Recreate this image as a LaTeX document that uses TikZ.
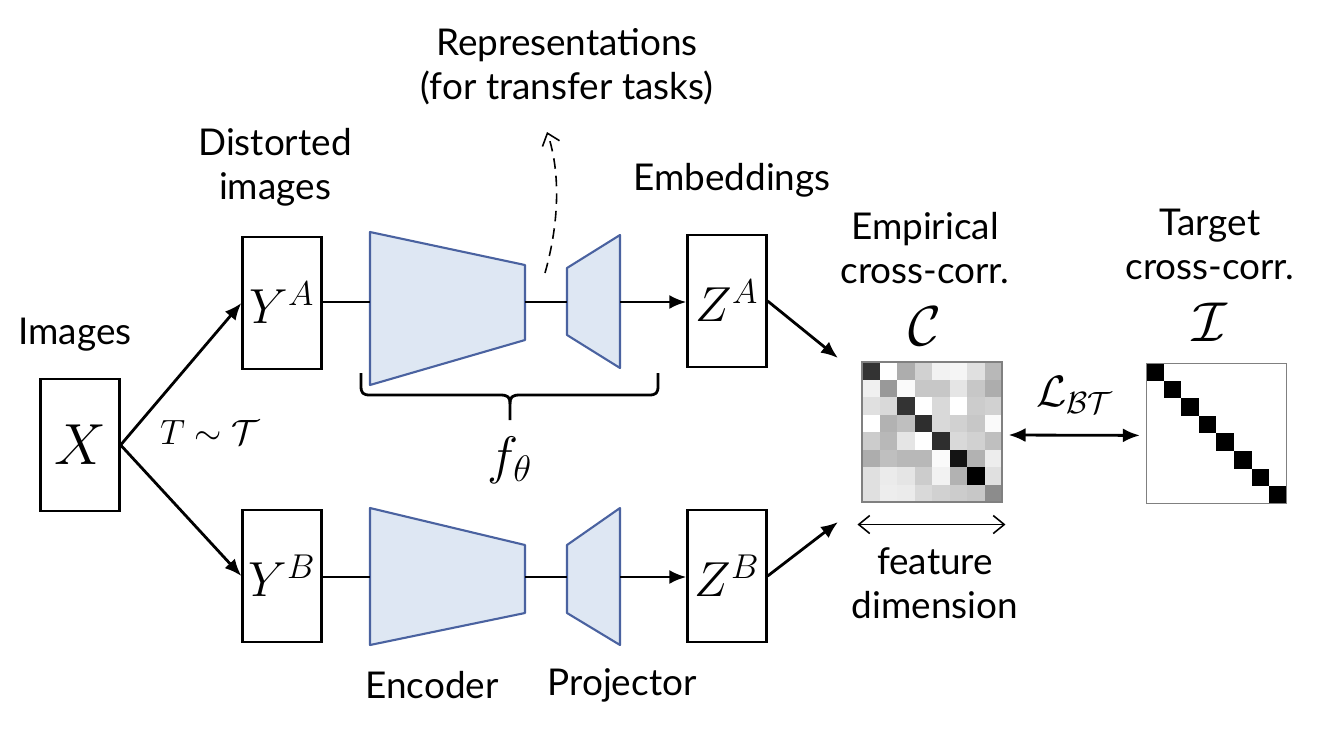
\RequirePackage{fix-cm}
\documentclass[tikz,border=0pt]{standalone}
\usepackage{fontspec}
\setmainfont{Lato}
\usetikzlibrary{arrows.meta,calc}
\definecolor{trapfill}{HTML}{DEE7F3}
\definecolor{trapline}{HTML}{4A62A0}
\begin{document}
\begin{tikzpicture}[x=0.02cm,y=-0.02cm,
  box/.style={draw, line width=1.3pt, minimum width=1.58cm, minimum height=2.64cm, inner sep=0pt, font=\fontsize{28}{32}\selectfont},
  lbl/.style={font=\fontsize{21}{25}\selectfont, align=center, inner sep=0pt},
  sym/.style={inner sep=0pt},
  conn/.style={line width=1.6pt, -{Latex[length=0.34cm,width=0.28cm]}},
  plain/.style={line width=1.6pt},
  trap/.style={draw=trapline, fill=trapfill, line width=1.2pt, line join=round},
  mat/.style={draw=gray, line width=0.6pt, minimum size=2.8cm, inner sep=0pt},
  barb/.style={line width=0.9pt, {Straight Barb[length=0.22cm,width=0.36cm]}-{Straight Barb[length=0.22cm,width=0.36cm]}}
]
\useasboundingbox (0,0) rectangle (1326,728);

% labels
\node[lbl] (limg) at (75,335) {Images};
\node[lbl] (ldist) at (275,167) {Distorted\\images};
\node[lbl] (lemb) at (732,180) {Embeddings};
\node[lbl] (lrep) at (567,67) {Representations\\(for transfer tasks)};
\node[lbl] (lemp) at (925,248) {Empirical\\cross-corr.};
\node[lbl] (ltar) at (1210,244) {Target\\cross-corr.};
\node[lbl] (lfeat) at (935,583) {feature\\dimension};
\node[lbl] (lenc) at (432,685) {Encoder};
\node[lbl] (lproj) at (622,685) {Projector};

% boxes
\node[box, font=\fontsize{33}{36}\selectfont] (X) at (80,445) {$X$};
\node[box] (YA) at (282,303) {$Y^A$};
\node[box] (YB) at (282,576) {$Y^B$};
\node[box] (ZA) at (727,301) {$Z^A$};
\node[box] (ZB) at (727,576) {$Z^B$};

% encoders / projectors (top)
\draw[trap] (370,232) -- (525,265) -- (525,340) -- (370,385) -- cycle;
\draw[trap] (567,268) -- (620,235) -- (620,368) -- (567,335) -- cycle;
% bottom
\draw[trap] (370,508) -- (525,545) -- (525,613) -- (370,645) -- cycle;
\draw[trap] (567,545) -- (620,508) -- (620,645) -- (567,613) -- cycle;

\coordinate (encAin) at (370,302);
\coordinate (encAout) at (525,302);
\coordinate (projAin) at (567,302);
\coordinate (projAout) at (620,302);
\coordinate (encBin) at (370,577);
\coordinate (encBout) at (525,577);
\coordinate (projBin) at (567,577);
\coordinate (projBout) at (620,577);

\draw[conn] (X.east) -- (YA.west);
\draw[conn] (X.east) -- (YB.west);
\node[sym, font=\fontsize{20}{24}\selectfont] (T) at (210,432) {$T\sim\mathcal{T}$};

\draw[plain] (YA.east |- encAin) -- (encAin);
\draw[plain] (encAout) -- (projAin);
\draw[conn] (projAout) -- (ZA.west |- projAout);
\draw[plain] (YB.east |- encBin) -- (encBin);
\draw[plain] (encBout) -- (projBin);
\draw[conn] (projBout) -- (ZB.west |- projBout);

% brace
\coordinate (brL) at (361,373);
\coordinate (brR) at (658,373);
\coordinate (brT) at (510,420);
\draw[line width=1.6pt, line join=round]
  (brL) -- (361,386) .. controls (361,393) and (363,395) .. (370,395)
  -- (500,395) .. controls (508,395) and (510,397) .. (510,404) -- (brT);
\draw[line width=1.6pt, line join=round]
  (brR) -- (658,386) .. controls (658,393) and (656,395) .. (649,395)
  -- (520,395) .. controls (512,395) and (510,397) .. (510,404);
\node[sym, font=\fontsize{30}{34}\selectfont] (f) at (510,460) {$f_\theta$};

% dashed arrow
\coordinate (dsA) at (545,273);
\coordinate (dsB) at (547,132);
\draw[line width=0.9pt, dash pattern=on 6pt off 4pt, -{Straight Barb[length=0.22cm,width=0.36cm]}] (dsA) .. controls (560,220) and (560,170) .. (dsB);

% matrices
\foreach \row [count=\r from 0] in {
 {0.2,1.0,0.68,0.82,0.95,0.96,0.88,0.72},
 {0.94,0.6,0.98,0.78,0.78,0.9,0.78,0.68},
 {0.88,0.85,0.2,1.0,0.85,1.0,0.8,0.82},
 {1.0,0.7,0.75,0.18,0.85,0.82,0.78,0.98},
 {0.8,0.72,0.9,1.0,0.18,0.85,0.82,0.75},
 {0.68,0.75,0.72,0.72,0.98,0.08,0.7,0.93},
 {0.88,0.92,0.9,0.8,0.95,0.7,0.0,0.88},
 {0.88,0.93,0.92,0.85,0.82,0.8,0.78,0.55}} {
  \foreach \v [count=\c from 0] in \row {
    \pgfmathsetmacro{\pct}{100*(1-\v)}
    \fill[black!\pct!white] (862+\c*17.5,362+\r*17.5) rectangle ++(17.5,17.5);
  }
}
\node[mat] (C) at (932,432) {};
\node[sym, font=\fontsize{32}{36}\selectfont] (Csym) at (925,326) {$\mathcal{C}$};

\foreach \i in {0,...,7} {
  \fill[black] (1146+\i*17.6,363+\i*17.6) rectangle ++(17.6,17.6);
}
\node[mat] (I) at (1216.4,433.4) {};
\node[sym, font=\fontsize{32}{36}\selectfont] (Isym) at (1210,322) {$\mathcal{I}$};

% arrows into C
\coordinate (cA) at (838,358);
\coordinate (cB) at (838,522);
\draw[conn] (ZA.east) -- (cA);
\draw[conn] (ZB.east) -- (cB);

% L_BT
\draw[line width=1.6pt, {Latex[length=0.34cm,width=0.28cm]}-{Latex[length=0.34cm,width=0.28cm]}] ($(C.east)+(6,3)$) -- ($(I.west)+(-6,2)$);
\node[sym, font=\fontsize{25}{28}\selectfont] (L) at (1075,395) {$\mathcal{L}_{\mathcal{B}\mathcal{T}}$};

% feature dimension arrow
\draw[barb] ($(C.south west)+(-4,22)$) -- ++(148,0);
\end{tikzpicture}
\end{document}
